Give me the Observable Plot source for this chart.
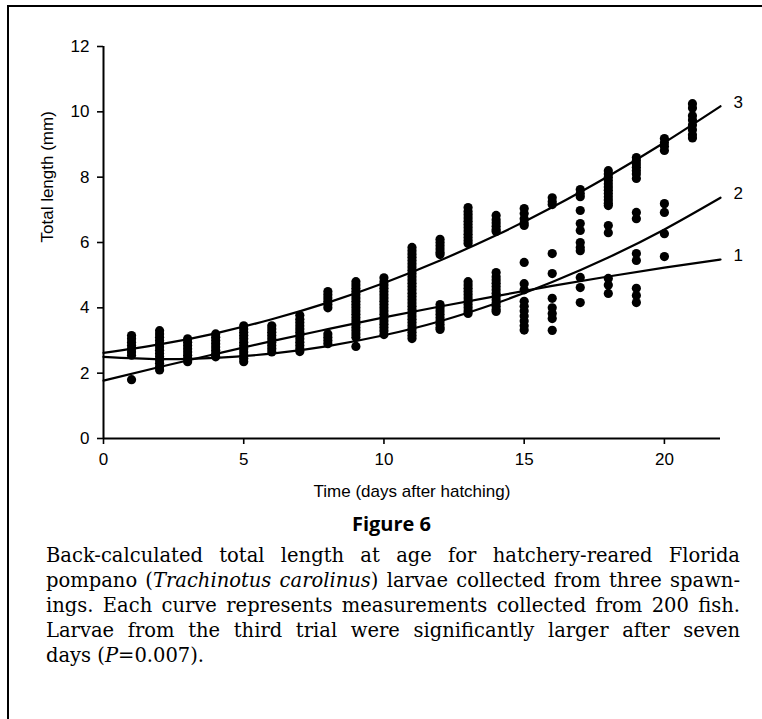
<!DOCTYPE html>
<html>
<head>
<meta charset="utf-8">
<script src="https://cdn.jsdelivr.net/npm/d3@7"></script>
<script src="https://cdn.jsdelivr.net/npm/@observablehq/plot@0.6"></script>
<style>
  html, body { margin: 0; padding: 0; background: #fff; }
  body { width: 762px; height: 719px; position: relative; overflow: hidden; }
  #frame { position: absolute; left: 7px; top: 5px; width: 820px; height: 800px;
           border-top: 2.5px solid #000; border-left: 2.5px solid #000; box-sizing: border-box; }
  #chart { position: absolute; left: 0; top: 0; }
  #chart svg text { font-family: "Liberation Sans", Arial, sans-serif; font-size: 17px; fill: #000; }
  #chart svg text.clabel { font-size: 18px; }
  #fig { position: absolute; top: 511px; left: 45px; width: 693px; text-align: center;
         font: 700 20px/26px "Open Sans", "DejaVu Sans", sans-serif; color: #000; }
  #cap { position: absolute; top: 543px; left: 46px; width: 694px;
         font: 19.5px/25px "DejaVu Serif", serif; color: #000; }
  #cap div { text-align: justify; text-align-last: justify; white-space: nowrap; }
  #cap div.last { text-align-last: left; }
</style>
</head>
<body>
<div id="frame"></div>
<div id="chart"></div>
<div id="fig">Figure 6</div>
<div id="cap">
  <div>Back-calculated total length at age for hatchery-reared Florida</div>
  <div>pompano (<i>Trachinotus carolinus</i>) larvae collected from three spawn-</div>
  <div>ings. Each curve represents measurements collected from 200 fish.</div>
  <div>Larvae from the third trial were significantly larger after seven</div>
  <div class="last">days (<i>P</i>=0.007).</div>
</div>
<script>
// ---- data ----
const days = [1, 2, 3, 4, 5, 6, 7, 8, 9, 10, 11, 12, 13, 14, 15, 16, 17, 18, 19, 20, 21];

const lengthsByDay = [
  /* 1 */ [3.15, 3.05, 2.95, 2.85, 2.75, 2.65, 2.55, 1.8],
  /* 2 */ [3.3, 3.2, 3.1, 3.0, 2.9, 2.8, 2.7, 2.6, 2.5, 2.4, 2.3, 2.2, 2.1],
  /* 3 */ [3.05, 2.95, 2.85, 2.75, 2.65, 2.55, 2.45, 2.35],
  /* 4 */ [3.2, 3.1, 3.0, 2.9, 2.8, 2.7, 2.6, 2.5],
  /* 5 */ [3.45, 3.35, 3.25, 3.15, 3.05, 2.95, 2.85, 2.75, 2.65, 2.55, 2.45, 2.35],
  /* 6 */ [3.45, 3.35, 3.25, 3.15, 3.05, 2.95, 2.85, 2.75, 2.65],
  /* 7 */ [3.77, 3.65, 3.55, 3.45, 3.35, 3.25, 3.15, 3.05, 2.95, 2.85, 2.75, 2.66],
  /* 8 */ [4.5, 4.4, 4.3, 4.2, 4.1, 4.0, 3.2, 3.1, 3.0, 2.9],
  /* 9 */ [4.8, 4.7, 4.6, 4.5, 4.4, 4.3, 4.2, 4.1, 4.0, 3.9, 3.8, 3.7, 3.6, 3.5, 3.4, 3.3, 3.2, 3.1, 2.82],
  /* 10 */ [4.92, 4.8, 4.7, 4.6, 4.5, 4.4, 4.3, 4.2, 4.1, 4.0, 3.9, 3.8, 3.7, 3.6, 3.5, 3.4, 3.3, 3.18],
  /* 11 */ [5.85, 5.75, 5.65, 5.55, 5.45, 5.35, 5.25, 5.15, 5.05, 4.95, 4.85, 4.75, 4.65, 4.55, 4.45,
            4.35, 4.25, 4.15, 4.05, 3.95, 3.85, 3.75, 3.65, 3.55, 3.45, 3.35, 3.25, 3.15, 3.06],
  /* 12 */ [6.1, 6.0, 5.9, 5.8, 5.7, 5.63, 4.1, 4.0, 3.9, 3.8, 3.7, 3.6, 3.5, 3.4, 3.34],
  /* 13 */ [7.07, 6.95, 6.85, 6.75, 6.65, 6.55, 6.45, 6.35, 6.25, 6.15, 6.05, 5.97,
            4.8, 4.7, 4.6, 4.5, 4.4, 4.3, 4.2, 4.1, 4.0, 3.9, 3.83],
  /* 14 */ [6.83, 6.7, 6.6, 6.5, 6.4, 6.34, 5.08, 4.95, 4.85, 4.75, 4.65, 4.55, 4.45, 4.35,
            4.25, 4.15, 4.05, 3.95, 3.89],
  /* 15 */ [7.04, 6.89, 6.73, 6.6, 6.52, 5.39, 4.74, 4.55, 4.2, 4.05, 3.9, 3.75, 3.6, 3.45, 3.32],
  /* 16 */ [7.37, 7.25, 7.16, 5.66, 5.05, 4.29, 4.0, 3.83, 3.67, 3.31],
  /* 17 */ [7.62, 7.5, 7.4, 6.98, 6.58, 6.37, 6.0, 5.85, 5.75, 4.93, 4.62, 4.16],
  /* 18 */ [8.2, 8.1, 8.0, 7.9, 7.8, 7.7, 7.6, 7.5, 7.4, 7.3, 7.2, 7.13, 6.52, 6.3, 4.9, 4.7, 4.44],
  /* 19 */ [8.6, 8.5, 8.4, 8.3, 8.2, 8.1, 7.96, 6.92, 6.73, 5.66, 5.45, 4.6, 4.38, 4.16],
  /* 20 */ [9.18, 9.05, 8.95, 8.82, 7.19, 6.92, 6.27, 5.57],
  /* 21 */ [10.25, 10.12, 9.88, 9.75, 9.6, 9.45, 9.3, 9.2]
];

const curveDays = [0, 2, 4, 6, 8, 10, 12, 14, 16, 18, 20, 22];
const curve1 = [1.77, 2.19, 2.59, 2.98, 3.35, 3.71, 4.04, 4.36, 4.67, 4.96, 5.23, 5.48];
const curve2 = [2.50, 2.43, 2.47, 2.60, 2.83, 3.16, 3.59, 4.14, 4.79, 5.54, 6.40, 7.37];
const curve3 = [2.62, 2.88, 3.22, 3.65, 4.16, 4.76, 5.45, 6.22, 7.08, 8.03, 9.06, 10.17];
const curveNames = ["1", "2", "3"];

const xTicks = [0, 5, 10, 15, 20];
const yTicks = [0, 2, 4, 6, 8, 10, 12];
const xTitle = "Time (days after hatching)";
const yTitle = "Total length (mm)";

// ---- build tables ----
const points = days.flatMap((d, i) => lengthsByDay[i].map(v => ({day: d, length: v})));
const curveSeries = [curve1, curve2, curve3];
const curvePts = curveSeries.flatMap((c, k) =>
  c.map((v, j) => ({day: curveDays[j], length: v, name: curveNames[k]})));
const curveEnds = curveSeries.map((c, k) =>
  ({day: curveDays[curveDays.length - 1], length: c[c.length - 1], name: curveNames[k]}));

const chart = Plot.plot({
  width: 762,
  height: 510,
  marginLeft: 103,
  marginRight: 42,
  marginTop: 46,
  marginBottom: 72,
  x: {domain: [0, 22]},
  y: {domain: [0, 12]},
  style: {fontFamily: "'Liberation Sans', Arial, sans-serif", fontSize: "17px", color: "#000", background: "transparent"},
  marks: [
    Plot.ruleY([0], {stroke: "#000", strokeWidth: 2}),
    Plot.ruleX([0], {y1: 0, y2: 12, stroke: "#000", strokeWidth: 2}),
    Plot.axisX({ticks: xTicks, tickSize: 6, tickPadding: 8, strokeWidth: 1.6, label: null}),
    Plot.axisY({ticks: yTicks, tickSize: 6, tickPadding: 8, strokeWidth: 1.6, label: null}),
    Plot.dot(points, {x: "day", y: "length", r: 4.6, fill: "#000", stroke: "none"}),
    Plot.line(curvePts, {x: "day", y: "length", z: "name", curve: "natural", stroke: "#000", strokeWidth: 2.2}),
    Plot.text(curveEnds, {x: "day", y: "length", text: "name", dx: 13, dy: -4, textAnchor: "start", className: "clabel"}),
    Plot.text([xTitle], {frameAnchor: "bottom", dy: 58}),
    Plot.text([yTitle], {frameAnchor: "left", dx: -56, rotate: -90})
  ]
});
document.getElementById("chart").appendChild(chart);
</script>
</body>
</html>
